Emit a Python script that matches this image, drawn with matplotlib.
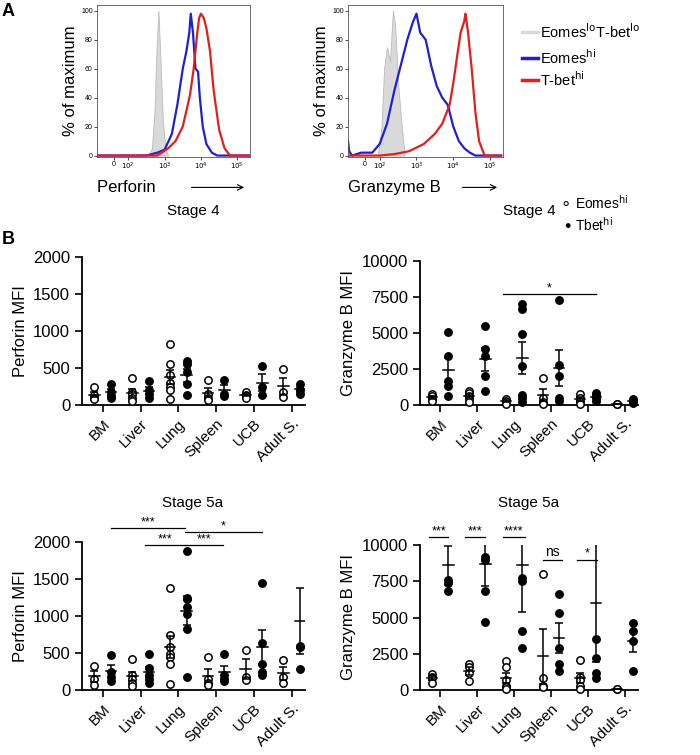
import numpy as np
import matplotlib
matplotlib.use("Agg")
import matplotlib.pyplot as plt

plt.rcParams['font.family'] = ['Liberation Sans', 'DejaVu Sans']

W, H = 700, 755
fig = plt.figure(figsize=(7, 7.55), dpi=100)

def ax_px(x0, y0, x1, y1):
    return fig.add_axes([x0 / W, 1 - y1 / H, (x1 - x0) / W, (y1 - y0) / H])

# ---------------- histogram data (x in log-decade units, y % max) ----------
perf_gray_x = [2.55, 2.65, 2.72, 2.78, 2.83, 2.88, 2.95, 3.02, 3.1]
perf_gray_y = [0, 5, 30, 75, 100, 70, 25, 5, 0]
perf_blue_x = [1.14, 2.5, 2.8, 3.0, 3.2, 3.35, 3.5, 3.6, 3.68, 3.72, 3.78, 3.85, 3.92, 3.97, 4.05, 4.15, 4.3, 4.45, 5.4]
perf_blue_y = [0, 0, 2, 4, 15, 35, 60, 72, 85, 98, 85, 60, 58, 40, 20, 8, 2, 0, 0]
perf_red_x = [1.14, 2.8, 3.1, 3.3, 3.5, 3.7, 3.8, 3.9, 3.95, 4.0, 4.08, 4.15, 4.25, 4.35, 4.5, 4.65, 4.8, 5.4]
perf_red_y = [0, 0, 5, 10, 20, 42, 60, 85, 95, 98, 95, 88, 72, 45, 18, 5, 0, 0]

gzb_gray_x = [1.95, 2.05, 2.12, 2.2, 2.28, 2.36, 2.42, 2.5, 2.6, 2.68]
gzb_gray_y = [0, 20, 60, 75, 65, 100, 90, 50, 20, 0]
gzb_blue_x = [1.14, 1.17, 1.25, 1.5, 1.8, 2.0, 2.2, 2.4, 2.6, 2.75, 2.9, 3.0, 3.1, 3.25, 3.4, 3.55, 3.7, 3.85, 4.0, 4.15, 4.3, 4.45, 4.6, 5.3]
gzb_blue_y = [10, 3, 0, 2, 2, 8, 22, 45, 65, 80, 92, 98, 85, 80, 62, 48, 40, 35, 20, 10, 5, 2, 0, 0]
gzb_red_x = [1.14, 2.0, 2.4, 2.8, 3.2, 3.5, 3.7, 3.9, 4.0, 4.1, 4.2, 4.3, 4.33, 4.4, 4.5, 4.6, 4.7, 4.85, 5.3]
gzb_red_y = [0, 0, 1, 3, 8, 15, 22, 35, 50, 68, 85, 93, 98, 85, 60, 30, 10, 0, 0]

hist_tick_pos = [1.6, 2, 3, 4, 5]
hist_tick_lbl = ['0', '$10^2$', '$10^3$', '$10^4$', '$10^5$']

def hist_ax(x0, x1, gx, gy, bx, by, rx, ry, xlabel):
    ax = ax_px(x0, 5, x1, 157)
    ax.fill_between(gx, gy, color='#d9d9d9', edgecolor='#bbbbbb', lw=0.6)
    ax.plot(bx, by, color='#1f1fd6', lw=1.6)
    ax.plot(rx, ry, color='#e0201b', lw=1.6)
    ax.set_xlim(1.14, 5.35)
    ax.set_ylim(-1, 104)
    ax.set_xticks(hist_tick_pos, hist_tick_lbl, fontsize=5)
    ax.set_yticks([0, 20, 40, 60, 80, 100], ['0', '20', '40', '60', '80', '100'], fontsize=5)
    ax.tick_params(length=2, width=0.5, pad=1)
    for s in ax.spines.values():
        s.set_linewidth(0.6)
        s.set_color('#555555')
    ax.set_ylabel('% of maximum', fontsize=12, labelpad=2)
    ax.text(0.0, -0.2, xlabel + '  ', transform=ax.transAxes, fontsize=12, va='center', ha='left')
    ax.annotate('', xy=(0.98, -0.2), xytext=(0.6 if xlabel == 'Perforin' else 0.72, -0.2),
                xycoords='axes fraction', arrowprops=dict(arrowstyle='->', lw=0.8, color='black'))
    return ax

hist_ax(97, 250, perf_gray_x, perf_gray_y, perf_blue_x, perf_blue_y, perf_red_x, perf_red_y, 'Perforin')
hist_ax(348, 503, gzb_gray_x, gzb_gray_y, gzb_blue_x, gzb_blue_y, gzb_red_x, gzb_red_y, 'Granzyme B')

# legend A
lx = 522
for yy, col, lbl in [(32, '#d9d9d9', r'Eomes$^{\mathrm{lo}}$T-bet$^{\mathrm{lo}}$'),
                     (58, '#1f1fd6', r'Eomes$^{\mathrm{hi}}$'),
                     (80, '#e0201b', r'T-bet$^{\mathrm{hi}}$')]:
    fig.add_artist(plt.Line2D([lx / W, (lx + 16) / W], [1 - yy / H, 1 - yy / H], color=col, lw=2.5))
    fig.text((lx + 18) / W, 1 - yy / H, lbl, fontsize=10.5, va='center')

fig.text(2 / W, 1 - 12 / H, 'A', fontsize=13, fontweight='bold', va='center')
fig.text(2 / W, 1 - 240 / H, 'B', fontsize=13, fontweight='bold', va='center')

# legend B
fig.text(560 / W, 1 - 203 / H, r'$\circ$', fontsize=12, va='center')
fig.text(575 / W, 1 - 203 / H, r'Eomes$^{\mathrm{hi}}$', fontsize=10, va='center')
fig.text(562 / W, 1 - 225 / H, r'$\bullet$', fontsize=12, va='center')
fig.text(575 / W, 1 - 225 / H, r'Tbet$^{\mathrm{hi}}$', fontsize=10, va='center')

# ---------------- scatter data ----------------
tissues = ['BM', 'Liver', 'Lung', 'Spleen', 'UCB', 'Adult S.']

perf4_eomes = [[240, 140, 100, 80], [360, 170, 150, 100, 50], [820, 560, 400, 300, 250, 200, 80],
               [340, 150, 100, 70], [170, 140, 120, 100], [480, 170, 110]]
perf4_tbet = [[280, 180, 120, 100], [330, 200, 150, 100], [600, 560, 450, 280, 130],
              [340, 150, 120], [530, 250, 130], [280, 200, 150]]
gzb4_eomes = [[750, 600, 450, 300], [1000, 800, 600, 400, 200], [450, 300, 100],
              [1900, 500, 200, 100], [750, 500, 300, 100], [100, 80]]
gzb4_tbet = [[5100, 3400, 1700, 1300, 600], [5500, 3900, 3400, 2000, 1000],
             [7000, 6700, 4900, 2700, 700, 500, 200], [7300, 2800, 2000, 500, 300],
             [800, 700, 500, 300], [400, 250, 150]]
perf5_eomes = [[330, 150, 70], [420, 200, 150, 100, 60], [1380, 750, 580, 480, 450, 350, 80],
               [450, 150, 100, 70], [540, 180, 130], [400, 180, 90]]
perf5_tbet = [[470, 250, 180, 120], [490, 300, 200, 150, 100], [1880, 1250, 1230, 1120, 1030, 820, 170],
              [490, 200, 150, 120], [1450, 630, 350, 250, 200], [2260, 590, 580, 290]]
gzb5_eomes = [[1100, 900, 800, 500], [1800, 1600, 1200, 600], [2000, 1600, 700, 300, 200, 100],
              [8000, 800, 300, 200], [2100, 900, 700, 300, 100], [100, 80]]
gzb5_tbet = [[12600, 7600, 7400, 6800], [13800, 9200, 9000, 6800, 4700], [20800, 7700, 7500, 4100, 2900],
             [6600, 5300, 2900, 1800, 1300], [22300, 3500, 2200, 1200, 800], [4600, 4100, 3400, 1300]]

def scatter_ax(x0, x1, ytop, ybot, ymax, yticks, ylabel, title, eom, tb):
    ax = ax_px(x0, ytop, x1, ybot)
    off = 0.22
    for i in range(len(tissues)):
        for vals, dx, fc in [(eom[i], -off, 'white'), (tb[i], off, 'black')]:
            v = np.array(vals, float)
            vis = v[v <= ymax]
            ax.scatter(np.full(len(vis), i + dx), vis, s=28, facecolor=fc, edgecolor='black', lw=1.1, zorder=3, clip_on=False)
            m = v.mean()
            se = v.std(ddof=1) / np.sqrt(len(v))
            ax.plot([i + dx - 0.14, i + dx + 0.14], [m, m], color='black', lw=1.1, zorder=4)
            ax.errorbar(i + dx, m, yerr=se, color='black', lw=1.1, capsize=3, capthick=1.1, zorder=4)
    ax.set_xlim(-0.55, 5.35)
    ax.set_ylim(0, ymax)
    ax.set_xticks(range(len(tissues)), tissues, rotation=45, ha='right', rotation_mode='anchor', fontsize=11)
    ax.set_yticks(yticks, [str(t) for t in yticks], fontsize=12)
    ax.tick_params(length=5, width=1.2)
    for s in ['top', 'right']:
        ax.spines[s].set_visible(False)
    for s in ['left', 'bottom']:
        ax.spines[s].set_linewidth(1.3)
    ax.set_ylabel(ylabel, fontsize=12)
    return ax

def sig(ax, x0, x1, y, txt):
    ax.plot([x0, x1], [y, y], color='black', lw=0.9, clip_on=False)
    ax.text((x0 + x1) / 2, y, txt, ha='center', va='bottom', fontsize=10 if txt == 'ns' else 9)

a1 = scatter_ax(82, 305, 257, 405, 2000, [0, 500, 1000, 1500, 2000], 'Perforin MFI', 'Stage 4', perf4_eomes, perf4_tbet)
a2 = scatter_ax(420, 638, 261, 405, 10000, [0, 2500, 5000, 7500, 10000], 'Granzyme B MFI', 'Stage 4', gzb4_eomes, gzb4_tbet)
sig(a2, 1.7, 4.2, 7700, '*')
a3 = scatter_ax(82, 305, 542, 690, 2000, [0, 500, 1000, 1500, 2000], 'Perforin MFI', 'Stage 5a', perf5_eomes, perf5_tbet)
sig(a3, 0.21, 2.18, 2190, '***')
sig(a3, 2.18, 4.2, 2135, '*')
sig(a3, 1.13, 2.18, 1960, '***')
sig(a3, 2.18, 3.17, 1960, '***')
a4 = scatter_ax(420, 638, 545, 690, 10000, [0, 2500, 5000, 7500, 10000], 'Granzyme B MFI', 'Stage 5a', gzb5_eomes, gzb5_tbet)
sig(a4, -0.3, 0.22, 10550, '***')
sig(a4, 0.67, 1.2, 10550, '***')
sig(a4, 1.7, 2.28, 10550, '****')
sig(a4, 2.77, 3.3, 9000, 'ns')
sig(a4, 3.7, 4.25, 9000, '*')

fig.text(193 / W, 1 - 211 / H, 'Stage 4', fontsize=11, ha='center', va='center')
fig.text(529 / W, 1 - 211 / H, 'Stage 4', fontsize=11, ha='center', va='center')
fig.text(193 / W, 1 - 503 / H, 'Stage 5a', fontsize=11, ha='center', va='center')
fig.text(529 / W, 1 - 503 / H, 'Stage 5a', fontsize=11, ha='center', va='center')

fig.savefig('out.png', dpi=100)
